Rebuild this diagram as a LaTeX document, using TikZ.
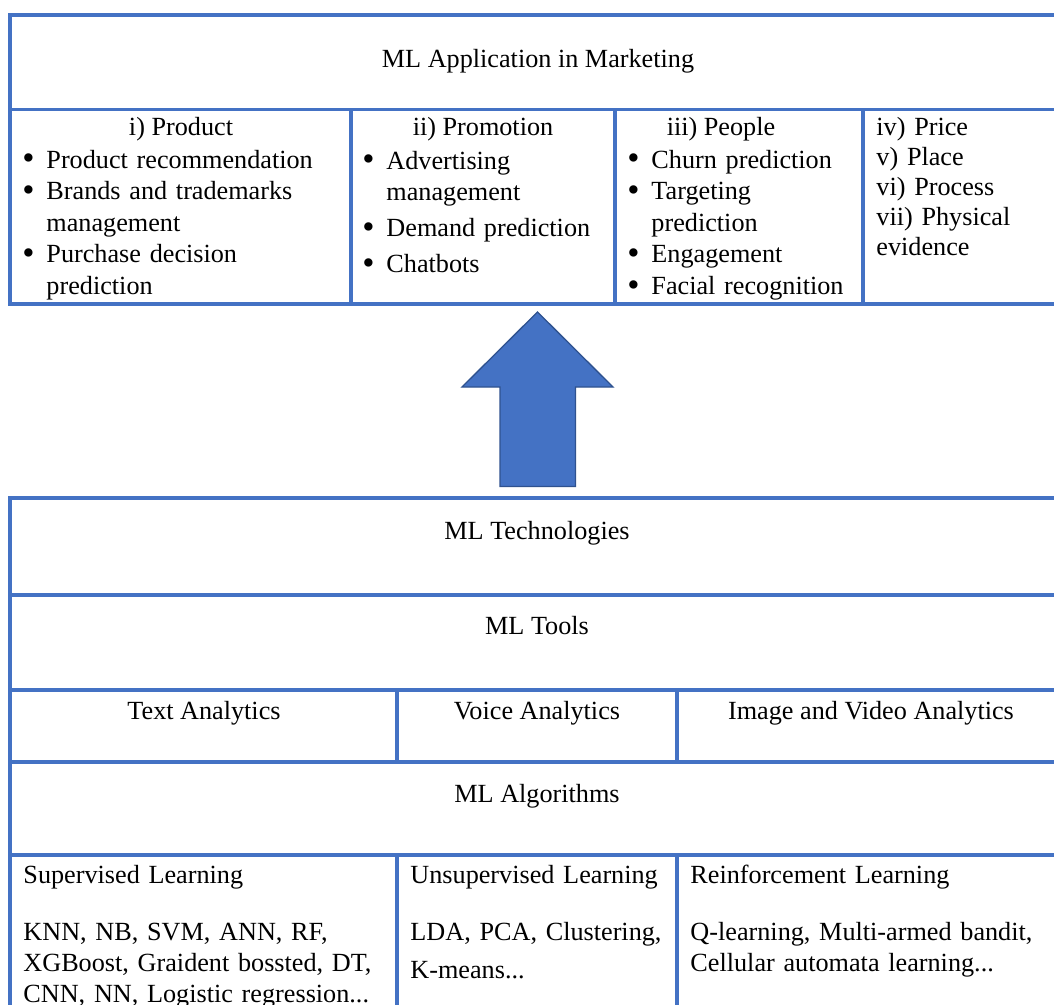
\documentclass[tikz,border=0pt]{standalone}
\usepackage{fontspec}
\setmainfont{Liberation Serif}
\usepackage{xcolor}
\usepackage{tikz}
\usetikzlibrary{positioning}
\definecolor{boxblue}{HTML}{4472C4}
\definecolor{arrowedge}{HTML}{2F528F}
\newcommand{\mlbullet}{\makebox[11pt][l]{\raisebox{-0.8pt}{\fontsize{16}{14}\selectfont\textbullet}}}
\newcommand{\mlindent}{\hspace*{11pt}}

\begin{document}
\begin{tikzpicture}[x=0.458pt, y=-0.458pt,
  grid/.style={draw=boxblue, line width=1.8pt},
  txt/.style={inner sep=0pt, font=\fontsize{12}{14.5}\selectfont},
  list/.style={txt, anchor=base west, text width=220pt, align=left}]
\useasboundingbox (0,0) rectangle (1054,1004);
\clip (0,0) rectangle (1054,1004);
% marketing table
\draw[grid] (1070,15) -- (10,15) -- (10,304) -- (1070,304);
\draw[grid] (10,109.5) -- (1070,109.5);
\foreach \x in {351,615,863}
  \draw[grid] (\x,109.5) -- (\x,304);
\node[txt, anchor=base] (app) at (538,67) {ML Application in Marketing};
\node[txt, anchor=base] (product) at (181,135) {i) Product};
\node[txt, anchor=base] (promotion) at (483,135) {ii) Promotion};
\node[txt, anchor=base] (people) at (721,135) {iii) People};
\node[list] (productlist) at (22,168) {\mlbullet Product recommendation\\
  \mlbullet Brands and trademarks\\ \mlindent management\\
  \mlbullet Purchase decision\\ \mlindent prediction};
\node[list] (promolist) at (362,169) {\mlbullet Advertising\\ \mlindent management\\[2pt]
  \mlbullet Demand prediction\\[2pt] \mlbullet Chatbots};
\node[list] (peoplelist) at (627,168) {\mlbullet Churn prediction\\
  \mlbullet Targeting\\ \mlindent prediction\\
  \mlbullet Engagement\\ \mlbullet Facial recognition};
\node[list, font=\fontsize{12}{13.75}\selectfont] (otherps) at (876,135) {iv) Price\\ v) Place\\
  vi) Process\\ vii) Physical\\ evidence};
% arrow
\draw[fill=boxblue, draw=arrowedge, line width=0.6pt] (537.5,312) -- (613,387)
  -- (575.5,387) -- (575.5,486.5) -- (500,486.5) -- (500,387) -- (462,387) -- cycle;
% technologies table
\draw[grid] (1070,498) -- (10,498) -- (10,1020);
\foreach \y in {595,690,762,855}
  \draw[grid] (10,\y) -- (1070,\y);
\foreach \x in {397,677} {
  \draw[grid] (\x,690) -- (\x,762);
  \draw[grid] (\x,855) -- (\x,1020);
}
\node[txt, anchor=base] (tech) at (537,539) {ML Technologies};
\node[txt, anchor=base] (tools) at (537,634) {ML Tools};
\node[txt, anchor=base] (textan) at (204,719) {Text Analytics};
\node[txt, anchor=base] (voicean) at (537,719) {Voice Analytics};
\node[txt, anchor=base] (imagean) at (871,719) {Image and Video Analytics};
\node[txt, anchor=base] (algo) at (537,802) {ML Algorithms};
\node[list, font=\fontsize{12}{14}\selectfont] (superv) at (23,883) {Supervised Learning\\[12.5pt]
  KNN, NB, SVM, ANN, RF,\\ XGBoost, Graident bossted, DT,\\ CNN, NN, Logistic regression...};
\node[list, font=\fontsize{12}{14}\selectfont] (unsuperv) at (410,883) {Unsupervised Learning\\[12.5pt]
  LDA, PCA, Clustering,\\[3.4pt] K-means...};
\node[list, font=\fontsize{12}{14}\selectfont] (reinf) at (690,883) {Reinforcement Learning\\[12.5pt]
  Q-learning, Multi-armed bandit,\\ Cellular automata learning...};
\end{tikzpicture}
\end{document}
